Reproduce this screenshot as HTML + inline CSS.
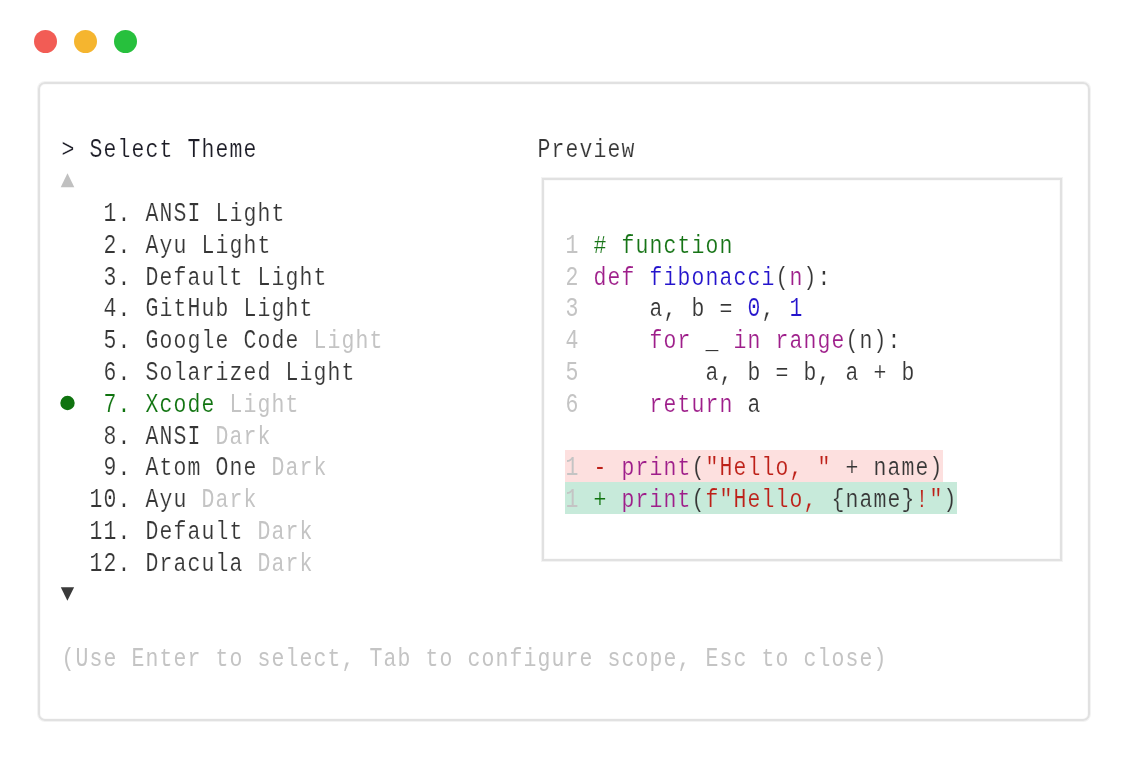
<!DOCTYPE html>
<html><head><meta charset="utf-8">
<style>
html,body{margin:0;padding:0;background:#fff;}
body{width:1129px;height:757px;position:relative;overflow:hidden;font-family:"Liberation Mono",monospace;}
#w{position:absolute;left:0;top:0;width:1129px;height:757px;filter:blur(0.45px);}
.dot{position:absolute;top:30px;width:23px;height:23px;border-radius:50%;}
.box{position:absolute;left:38px;top:82px;width:1048px;height:635px;border:2px solid #e1e1e1;border-radius:7px;box-shadow:0 0 0 1px #f3f3f3,inset 0 0 0 1px #fafafa;}
.pv{position:absolute;left:542px;top:178px;width:516px;height:379px;border:2px solid #e1e1e1;box-shadow:0 0 0 1px #f3f3f3,inset 0 0 0 1px #fafafa;}
.band{position:absolute;left:564.5px;height:31.8px;}
.r{position:absolute;left:60.5px;height:31.8px;line-height:31.8px;font-size:23.33px;white-space:pre;color:#363636;transform-origin:0 21.00px;transform:scaleY(1.08);-webkit-text-stroke:0.15px #fff;}
.rb{-webkit-text-stroke-color:#fde0df}
.gb{-webkit-text-stroke-color:#c7eada}
i{font-style:normal;display:inline-block;width:14px;text-align:center;transform-origin:50% 21.00px;transform:scaleX(0.92);}
i.u{transform:scale(0.92,1.075);}
.h{color:#1c1c26}
.d{color:#c4c4c4;-webkit-text-stroke-width:0.0px}
.g{color:#0f730f}
.k{color:#9e1e8a}
.b{color:#2414cc}
.s{color:#bd2018}
.c{color:#167416}
.ln{color:#c4c4c4;-webkit-text-stroke-width:0.0px}
</style></head><body><div id="w">
<div class="dot" style="left:34px;background:#f25c55"></div>
<div class="dot" style="left:74px;background:#f5b52f"></div>
<div class="dot" style="left:114px;background:#27c03d"></div>
<div class="box"></div>
<div class="pv"></div>
<div class="band" style="top:450.00px;width:378px;background:#fde0df"></div>
<div class="band" style="top:481.80px;width:392px;background:#c7eada"></div>
<div class="r " style="top:136.40px"><span class="h"><i>&gt;</i> <i class="u">S</i><i>e</i><i>l</i><i>e</i><i>c</i><i>t</i> <i class="u">T</i><i>h</i><i>e</i><i>m</i><i>e</i></span></div>
<div class="r " style="top:136.40px;left:536.5px"><i class="u">P</i><i>r</i><i>e</i><i>v</i><i>i</i><i>e</i><i>w</i></div>
<div class="r " style="top:200.00px">   <i class="u">1</i><i>.</i> <i class="u">A</i><i class="u">N</i><i class="u">S</i><i class="u">I</i> <i class="u">L</i><i>i</i><i>g</i><i>h</i><i>t</i></div>
<div class="r " style="top:231.80px">   <i class="u">2</i><i>.</i> <i class="u">A</i><i>y</i><i>u</i> <i class="u">L</i><i>i</i><i>g</i><i>h</i><i>t</i></div>
<div class="r " style="top:263.60px">   <i class="u">3</i><i>.</i> <i class="u">D</i><i>e</i><i>f</i><i>a</i><i>u</i><i>l</i><i>t</i> <i class="u">L</i><i>i</i><i>g</i><i>h</i><i>t</i></div>
<div class="r " style="top:295.40px">   <i class="u">4</i><i>.</i> <i class="u">G</i><i>i</i><i>t</i><i class="u">H</i><i>u</i><i>b</i> <i class="u">L</i><i>i</i><i>g</i><i>h</i><i>t</i></div>
<div class="r " style="top:327.20px">   <i class="u">5</i><i>.</i> <i class="u">G</i><i>o</i><i>o</i><i>g</i><i>l</i><i>e</i> <i class="u">C</i><i>o</i><i>d</i><i>e</i> <span class="d"><i class="u">L</i><i>i</i><i>g</i><i>h</i><i>t</i></span></div>
<div class="r " style="top:359.00px">   <i class="u">6</i><i>.</i> <i class="u">S</i><i>o</i><i>l</i><i>a</i><i>r</i><i>i</i><i>z</i><i>e</i><i>d</i> <i class="u">L</i><i>i</i><i>g</i><i>h</i><i>t</i></div>
<div class="r " style="top:390.80px"><span class="g">   <i class="u">7</i><i>.</i> <i class="u">X</i><i>c</i><i>o</i><i>d</i><i>e</i></span> <span class="d"><i class="u">L</i><i>i</i><i>g</i><i>h</i><i>t</i></span></div>
<div class="r " style="top:422.60px">   <i class="u">8</i><i>.</i> <i class="u">A</i><i class="u">N</i><i class="u">S</i><i class="u">I</i> <span class="d"><i class="u">D</i><i>a</i><i>r</i><i>k</i></span></div>
<div class="r " style="top:454.40px">   <i class="u">9</i><i>.</i> <i class="u">A</i><i>t</i><i>o</i><i>m</i> <i class="u">O</i><i>n</i><i>e</i> <span class="d"><i class="u">D</i><i>a</i><i>r</i><i>k</i></span></div>
<div class="r " style="top:486.20px">  <i class="u">1</i><i class="u">0</i><i>.</i> <i class="u">A</i><i>y</i><i>u</i> <span class="d"><i class="u">D</i><i>a</i><i>r</i><i>k</i></span></div>
<div class="r " style="top:518.00px">  <i class="u">1</i><i class="u">1</i><i>.</i> <i class="u">D</i><i>e</i><i>f</i><i>a</i><i>u</i><i>l</i><i>t</i> <span class="d"><i class="u">D</i><i>a</i><i>r</i><i>k</i></span></div>
<div class="r " style="top:549.80px">  <i class="u">1</i><i class="u">2</i><i>.</i> <i class="u">D</i><i>r</i><i>a</i><i>c</i><i>u</i><i>l</i><i>a</i> <span class="d"><i class="u">D</i><i>a</i><i>r</i><i>k</i></span></div>
<div class="r " style="top:645.20px"><span class="d"><i>(</i><i class="u">U</i><i>s</i><i>e</i> <i class="u">E</i><i>n</i><i>t</i><i>e</i><i>r</i> <i>t</i><i>o</i> <i>s</i><i>e</i><i>l</i><i>e</i><i>c</i><i>t</i><i>,</i> <i class="u">T</i><i>a</i><i>b</i> <i>t</i><i>o</i> <i>c</i><i>o</i><i>n</i><i>f</i><i>i</i><i>g</i><i>u</i><i>r</i><i>e</i> <i>s</i><i>c</i><i>o</i><i>p</i><i>e</i><i>,</i> <i class="u">E</i><i>s</i><i>c</i> <i>t</i><i>o</i> <i>c</i><i>l</i><i>o</i><i>s</i><i>e</i><i>)</i></span></div>
<div class="r " style="top:231.80px;left:564.5px"><span class="ln"><i class="u">1</i></span> <span class="c"><i>#</i> <i>f</i><i>u</i><i>n</i><i>c</i><i>t</i><i>i</i><i>o</i><i>n</i></span></div>
<div class="r " style="top:263.60px;left:564.5px"><span class="ln"><i class="u">2</i></span> <span class="k"><i>d</i><i>e</i><i>f</i></span> <span class="b"><i>f</i><i>i</i><i>b</i><i>o</i><i>n</i><i>a</i><i>c</i><i>c</i><i>i</i></span><i>(</i><span class="k"><i>n</i></span><i>)</i><i>:</i></div>
<div class="r " style="top:295.40px;left:564.5px"><span class="ln"><i class="u">3</i></span>     <i>a</i><i>,</i> <i>b</i> <i>=</i> <span class="b"><i class="u">0</i></span><i>,</i> <span class="b"><i class="u">1</i></span></div>
<div class="r " style="top:327.20px;left:564.5px"><span class="ln"><i class="u">4</i></span>     <span class="k"><i>f</i><i>o</i><i>r</i></span> <i>_</i> <span class="k"><i>i</i><i>n</i></span> <span class="k"><i>r</i><i>a</i><i>n</i><i>g</i><i>e</i></span><i>(</i><i>n</i><i>)</i><i>:</i></div>
<div class="r " style="top:359.00px;left:564.5px"><span class="ln"><i class="u">5</i></span>         <i>a</i><i>,</i> <i>b</i> <i>=</i> <i>b</i><i>,</i> <i>a</i> <i>+</i> <i>b</i></div>
<div class="r " style="top:390.80px;left:564.5px"><span class="ln"><i class="u">6</i></span>     <span class="k"><i>r</i><i>e</i><i>t</i><i>u</i><i>r</i><i>n</i></span> <i>a</i></div>
<div class="r rb" style="top:454.40px;left:564.5px"><span class="ln"><i class="u">1</i></span> <span class="s"><i>-</i></span> <span class="k"><i>p</i><i>r</i><i>i</i><i>n</i><i>t</i></span><i>(</i><span class="s"><i>"</i><i class="u">H</i><i>e</i><i>l</i><i>l</i><i>o</i><i>,</i> <i>"</i></span> <i>+</i> <i>n</i><i>a</i><i>m</i><i>e</i><i>)</i></div>
<div class="r gb" style="top:486.20px;left:564.5px"><span class="ln"><i class="u">1</i></span> <span class="g"><i>+</i></span> <span class="k"><i>p</i><i>r</i><i>i</i><i>n</i><i>t</i></span><i>(</i><span class="s"><i>f</i><i>"</i><i class="u">H</i><i>e</i><i>l</i><i>l</i><i>o</i><i>,</i> </span><i>{</i><i>n</i><i>a</i><i>m</i><i>e</i><i>}</i><span class="s"><i>!</i><i>"</i></span><i>)</i></div>
<svg style="position:absolute;left:0;top:0" width="1129" height="757"><circle cx="67.5" cy="403" r="7.2" fill="#0f730f"/><polygon points="67.5,173.3 60.7,187.2 74.3,187.2" fill="#c0c0c0"/><polygon points="60.8,587.3 74.1,587.3 67.4,600.8" fill="#3a3a3a"/></svg>
</div></body></html>
